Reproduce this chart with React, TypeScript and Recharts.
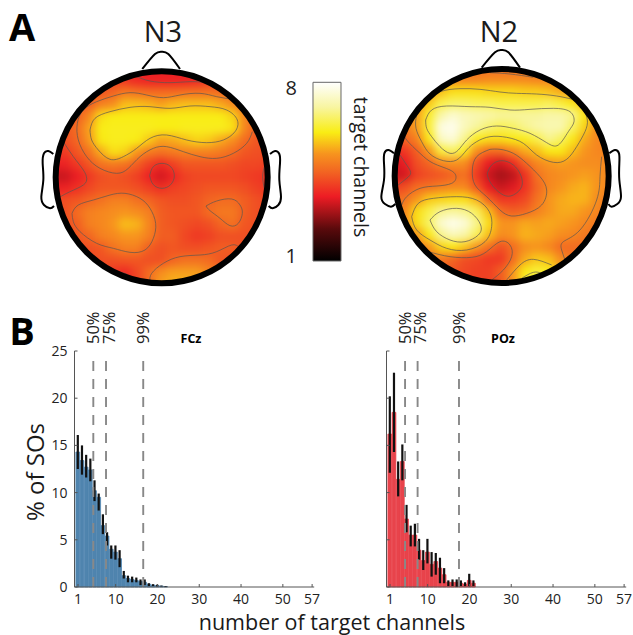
import React from "react";
import {
  Bar,
  ComposedChart,
  Curve,
  ErrorBar,
  ReferenceDot,
  ReferenceLine,
  Scatter,
  XAxis,
  YAxis,
} from "recharts";

// scalp maps: level on a 19x19 grid, one row per line, top of the head first
const n3Grid = [
  [3.6,3.6,3.6,3.6,3.6,3.6,3.6,3.6,3.6,3.6,3.6,3.6,3.6,3.6,3.6,3.6,3.6,3.6,3.6],
  [4,4,4,4,4,4,3.9,3.7,3.6,3.6,3.6,3.6,3.7,3.9,4,4,4,4,4],
  [4.2,4.2,4.2,4.2,4.3,4.5,4.8,4.7,4.6,4.6,4.6,4.7,4.7,4.7,4.6,4.4,4.3,4.2,4.2],
  [4.3,4.3,4.3,4.4,4.9,5.1,5.6,5.6,5.5,5.3,5.5,5.6,5.6,5.6,5.4,5.1,4.5,4.3,4.3],
  [4.3,4.3,4.4,5,5.9,6.05,6.05,6.05,6.05,6.05,6.05,6.05,6.05,6.05,6.05,5.8,5,4.4,4.3],
  [4.3,4.3,4.6,5.3,6.05,6.1,6.1,6.1,6.1,6.05,6.05,6.1,6.1,6.1,6.1,5.95,5,4.4,4.3],
  [4.2,4.2,4.5,5.2,6,6.1,6.1,6.05,5.7,5.3,5.4,5.6,5.8,5.7,5.4,5.1,4.6,4.3,4.2],
  [4,3.9,4.3,4.7,5.4,5.9,5.8,5.2,4.8,4.7,4.8,4.9,4.9,4.9,4.8,4.6,4.3,4.2,4.2],
  [3.6,3.6,3.9,4.3,4.7,4.8,4.7,4.4,4,3.7,4,4.3,4.3,4.3,4.3,4.2,4.1,4.1,4],
  [3.2,3.2,3.5,3.9,4.2,4.3,4.2,4,3.6,3.3,3.6,4,4.1,4.1,4.1,4.1,4,3.9,3.8],
  [3.6,3.6,3.8,4.1,4.3,4.3,4.3,4.2,4,3.8,4,4.1,4.2,4.3,4.3,4.3,4.2,4,3.9],
  [4.2,4.2,4.3,4.5,4.7,4.9,4.9,4.7,4.5,4.3,4.2,4.2,4.3,4.5,4.6,4.6,4.4,4.2,4.1],
  [4.2,4.2,4.6,4.9,5,5.1,5.2,5.1,4.9,4.4,4.3,4.3,4.3,4.6,4.8,4.8,4.4,4.2,4.1],
  [4.2,4.2,4.4,4.9,5,5.2,5.6,5.5,5,4.4,4.3,4.2,4.1,4.2,4.5,4.7,4.3,4.2,4.1],
  [4.2,4.2,4.3,4.5,4.9,5,5.2,5.2,4.9,4.4,4.4,4.1,3.9,4,4.2,4.2,4.2,4.2,4.2],
  [4.1,4.1,4.1,4.2,4.3,4.7,4.9,4.9,4.4,4.2,4.3,4.2,4.2,4.3,4.4,4.4,4.2,4.1,4.1],
  [4.1,4.1,4.1,4.1,4.2,4.2,4.3,4.3,4.2,4.2,4.5,4.7,4.7,4.6,4.3,4.2,4.1,4.1,4.1],
  [4,4,4,4,4,3.9,3.7,4.1,4.6,5.1,5.3,5.3,5.3,5,4.6,4.2,4.1,4,4],
  [3.8,3.8,3.8,3.8,3.8,3.8,3.7,4,4.6,5.3,5.5,5.5,5.4,4.9,4.4,4,3.9,3.8,3.8],
];

const n2Grid = [
  [4.6,4.6,4.6,4.6,4.6,4.6,4.6,4.6,4.6,4.6,4.6,4.6,4.6,4.6,4.6,4.6,4.6,4.6,4.6],
  [4.8,4.8,4.8,4.8,4.9,4.9,4.9,4.9,5,5,5,5,4.9,4.9,4.8,4.8,4.8,4.8,4.8],
  [5,5,5,5,5.6,5.9,5.9,5.9,5.8,5.8,5.8,5.7,5.7,5.6,5.4,5.1,5,4.9,4.9],
  [5,5,5,5.7,6.4,6.6,6.6,6.5,6.5,6.4,6.4,6.4,6.4,6.5,6.3,6,5.5,5,5],
  [5,5,5.3,6.2,7.1,7.5,7.3,7.2,7.1,7,7,7,7,7.1,7.1,6.9,6,5.1,5],
  [4.6,4.8,5.3,6.3,7.7,7.8,7.3,7,6.7,6.5,6.6,6.9,7.1,7.2,7.2,6.6,5.8,5,4.9],
  [4.3,4.5,4.9,6,7.4,7.6,6.9,6.1,5.9,5.9,6,6.1,6.4,6.9,6.6,6,5.4,5,4.9],
  [3.6,3.9,4.4,5.2,6.3,6.6,6.1,5.1,4.6,4.6,5,5.4,5.6,6,6,5.6,5.2,5,4.9],
  [3.3,3.5,4.2,4.5,5,5.2,5.1,4.2,3.5,3.3,3.7,4.5,5,5.2,5.3,5.2,5.1,5.1,5],
  [3.2,3.3,4,4.2,4.3,4.5,4.7,3.9,3.2,2.9,3.1,3.8,4.7,5,5.1,5.2,5.3,5.2,5],
  [3.9,4.2,4.6,4.7,4.9,5,5,4.3,3.5,3.2,3.4,3.8,4.5,5,5.2,5.4,5.5,5.2,5],
  [4.6,4.7,5.2,5.7,5.8,5.9,5.9,5.5,4.4,3.9,3.9,4.1,4.7,5.2,5.4,5.5,5.5,5.1,4.8],
  [4.8,5,5.9,6.4,6.9,7,6.9,6.5,5.6,4.6,4.4,4.5,4.9,5.2,5.4,5.4,5.2,5,4.7],
  [4.8,5,5.9,6.6,7.5,7.8,7.6,6.9,5.9,5.2,5.2,5.4,5.3,5.4,5.3,5.2,5,4.8,4.6],
  [4.8,4.8,5.2,6,6.9,7.3,7.1,6.5,5.6,5.1,5.2,5.5,5.4,5.3,5.1,5,4.8,4.6,4.5],
  [4.5,4.5,4.7,5.2,5.8,6,5.7,5.2,4.7,4.2,4.6,5.1,5.2,5,4.6,4.6,4.6,4.5,4.4],
  [4.3,4.3,4.4,4.6,4.8,4.5,4.2,4.1,3.9,3.9,4.6,5.4,5.7,5.6,5.1,4.7,4.5,4.4,4.3],
  [4,4,4,4.2,4.4,4.3,4.1,4,4,4.4,5.2,6,6.3,6.1,5.5,4.8,4.3,4.2,4.2],
  [3.8,3.8,3.8,4,4.2,4.1,4,4,4,4.3,5.2,6.2,6.6,6.3,5.5,4.6,4.1,4,4],
];

type P = [number, number];

// contour lines, in 1/3 px of the map box
const n3Contours: P[][] = [
  [[700,298],[650,290],[600,280],[540,285],[490,293],[440,285],[390,278],[340,288],[290,305],[250,330],[232,370],[235,420],[260,470],[300,505],[350,520],[385,505],[420,470],[460,445],[500,440],[550,455],[600,470],[650,475],[700,460],[740,430],[757,395]],
  [[270,390],[285,355],[330,335],[390,322],[450,320],[510,325],[570,318],[630,320],[680,330],[712,360],[705,395],[670,420],[620,428],[560,420],[500,405],[450,415],[410,445],[370,470],[330,478],[295,450],[275,420],[270,390]],
  [[405,228],[450,243],[510,248],[570,245],[610,247]],
  [[449,527],[460,500],[486,490],[512,500],[523,527],[512,554],[486,565],[460,554],[449,527]],
  [[190,425],[220,470],[250,510],[260,535],[250,555],[210,575],[178,592]],
  [[216,640],[235,615],[280,600],[330,585],[375,580],[420,595],[450,625],[467,670],[460,715],[435,750],[390,757],[340,745],[290,730],[240,695],[220,665],[216,640]],
  [[618,618],[650,603],[695,597],[720,615],[727,640],[715,670],[690,677],[660,655],[630,632],[618,618]],
  [[450,845],[455,820],[490,790],[540,770],[600,765],[650,755],[695,735],[718,742]],
  [[795,495],[788,530],[795,575]],
  [[350,820],[375,820],[390,835]],
];

const n2Contours: P[][] = [
  [[600,218],[660,222],[730,232]],
  [[848,298],[800,288],[740,282],[680,280],[630,276],[570,268],[510,266],[450,275],[400,305],[380,345],[378,385],[395,425],[420,462],[460,482],[500,480],[530,450],[560,425],[600,410],[650,412],[700,430],[740,465],[790,487],[830,478],[860,440],[885,395],[892,360],[880,325]],
  [[407,360],[425,330],[470,318],[540,320],[600,322],[660,330],[720,328],[790,325],[840,335],[852,365],[835,395],[805,435],[770,428],[720,400],[670,385],[620,378],[570,390],[530,420],[505,450],[480,460],[450,440],[425,410],[410,385],[407,360]],
  [[345,400],[350,420],[390,460],[430,490],[480,510],[498,530],[485,550],[440,558],[390,565],[350,590],[335,615]],
  [[330,465],[350,495],[362,518],[350,535],[322,557]],
  [[600,448],[560,470],[547,510],[555,555],[590,590],[630,630],[665,648],[710,640],[755,615],[770,570],[750,530],[710,490],[670,460],[630,448],[600,448]],
  [[592,520],[605,495],[635,482],[670,495],[692,525],[695,560],[670,585],[640,585],[610,560],[595,535],[592,520]],
  [[365,650],[385,610],[430,595],[500,590],[560,600],[598,635],[605,680],[585,725],[530,750],[470,745],[420,720],[380,690],[365,650]],
  [[420,660],[450,635],[500,625],[545,640],[572,675],[565,705],[525,725],[480,720],[440,695],[420,660]],
  [[415,755],[480,770],[545,772],[590,755],[630,725],[660,735],[665,770],[640,810],[605,840]],
  [[650,840],[690,795],[730,778],[785,795]],
  [[695,835],[730,817],[755,820]],
  [[935,470],[930,530],[920,600],[870,690],[820,725],[815,750],[825,780]],
];

const n3Outline: P[][] = [
  [[427,207],[465,162],[485,155],[505,162],[540,207]],
  [[160,462],[145,453],[132,460],[128,490],[130,540],[124,590],[132,615],[150,625],[162,618]],
  [[810,462],[825,453],[838,462],[840,490],[838,540],[843,590],[835,615],[818,625],[806,618]],
];

const n2Outline: P[][] = [
  [[575,203],[615,157],[635,150],[655,157],[690,203]],
  [[312,460],[295,450],[283,460],[282,490],[282,540],[274,590],[285,612],[303,620],[316,612]],
  [[958,460],[975,450],[987,460],[988,490],[988,540],[993,590],[982,612],[965,620],[955,612]],
];

// colour bar stops: share of the 1..8 range, colour
const colorStops: [number, string][] = [
  [0, "#000000"],
  [0.18, "#5a0a0c"],
  [0.36, "#ed1c24"],
  [0.5, "#f26522"],
  [0.6, "#f7941e"],
  [0.72, "#f9ed14"],
  [0.86, "#f8f5a0"],
  [1, "#ffffff"],
];

// histograms
const channels = [1,2,3,4,5,6,7,8,9,10,11,12,13,14,15,16,17,18,19,20,21,22];
const xTicks = [1, 10, 20, 30, 40, 50, 57];
const yTicks = [0, 5, 10, 15, 20, 25];
const pctNames = ["50%", "75%", "99%"];
const fczPct = [4.66, 7.7, 16.6];
const pozPct = [4.6, 7.6, 17.5];

const fczVals = [14.3,13.4,12.7,12.4,10.2,9.5,6.5,5.4,4,3.7,3,1.2,0.9,0.8,0.7,0.6,0.5,0.3,0.2,0.15,0.1,0.05];
const fczLow = [12.5,11.9,11.6,11.2,9.1,8.1,5.6,4.4,3,2.9,2.1,0.9,0.5,0.5,0.5,0.2,0.2,0.1,0.1,0.05,0.05,0];
const fczHigh = [16.1,15,14,13.6,11.3,9.9,7.7,5.8,4.4,4.4,3.9,1.7,1.2,1.1,1,0.8,0.8,0.4,0.3,0.25,0.15,0.1];

const pozVals = [16.2,18.5,11.4,13.3,7.2,5.5,5.5,3.9,2.8,3.7,2.4,2.7,2,1.3,0.5,0.5,0.5,0.4,0.3,0.7,0.4];
const pozLow = [12.1,14.3,9.6,11.3,5.8,4.3,4.3,2.9,1.8,2.5,1.1,1.3,0.4,0.4,0.1,0.1,0,0.1,0.1,0.1,0.1];
const pozHigh = [20.2,22.7,13.3,15.1,8.7,6.5,6.7,5.1,3.9,5.1,3.7,3.6,3.1,2,0.7,0.8,0.8,0.7,0.5,1.4,0.7];

const FONT = '"Open Sans", sans-serif';
const INK = "#222";
const AXIS = "#555";

function hex(c: string) {
  return [1, 3, 5].map((i) => parseInt(c.slice(i, i + 2), 16));
}

function levelColor(level: number) {
  const t = (level - 1) / 7;
  for (let i = 1; i < colorStops.length; i++) {
    if (t <= colorStops[i][0]) {
      const [t0, c0] = colorStops[i - 1];
      const [t1, c1] = colorStops[i];
      const k = (t - t0) / (t1 - t0);
      const a = hex(c0);
      const b = hex(c1);
      return `rgb(${a.map((v, j) => Math.round(v + (b[j] - v) * k)).join(",")})`;
    }
  }
  return "#fff";
}

function Label({ x, y, size, rotate = 0, bold = false, children }: any) {
  return (
    <div
      style={{
        position: "absolute",
        left: x,
        top: y,
        transform: `translate(-50%, -50%) rotate(${rotate}deg)`,
        fontFamily: FONT,
        fontSize: size,
        fontWeight: bold ? 700 : 400,
        color: bold ? "#000" : "#1a1a1a",
        whiteSpace: "nowrap",
        lineHeight: 1,
      }}
    >
      {children}
    </div>
  );
}

function HeatCell(props: any) {
  return (
    <rect
      x={props.cx - 7}
      y={props.cy - 7}
      width={14}
      height={14}
      fill={levelColor(props.level)}
    />
  );
}

function toPoints(line: P[]) {
  return line.map(([x, y]) => ({ x, y }));
}

// smooth line through the scatter's own scaled points
const smoothLine = (stroke: string, strokeWidth: number) => (props: any) => (
  <Curve points={props.points} type="natural" fill="none" stroke={stroke} strokeWidth={strokeWidth} />
);

function HeadMap({ grid, contours, outline, left, width, cx, cy, r }: any) {
  const cells = grid.flatMap((row: number[], i: number) =>
    row.map((level, j) => ({ x: cx + (j - 9) * 36, y: cy + (i - 9) * 36, level }))
  );
  const box = { position: "absolute", left, top: 0 } as const;
  const domainX = [0, width * 3];
  const axes = (
    <>
      <XAxis type="number" dataKey="x" domain={domainX} hide />
      <YAxis type="number" dataKey="y" domain={[0, 900]} reversed hide />
    </>
  );
  return (
    <>
      <div style={{ ...box, width, height: 300, clipPath: `circle(${r / 3}px at ${cx / 3}px ${cy / 3}px)` }}>
        <div style={{ filter: "blur(4.5px)" }}>
          <ComposedChart width={width} height={300} margin={{ top: 0, right: 0, bottom: 0, left: 0 }}>
            {axes}
            <Scatter data={cells} shape={HeatCell} isAnimationActive={false} />
          </ComposedChart>
        </div>
      </div>
      <div style={box}>
        <ComposedChart width={width} height={300} margin={{ top: 0, right: 0, bottom: 0, left: 0 }}>
          {axes}
          {contours.map((line: P[], i: number) => (
            <Scatter
              key={i}
              data={toPoints(line)}
              line={smoothLine("#5c5650", 0.7)}
              shape={() => <g />}
              isAnimationActive={false}
            />
          ))}
          {outline.map((line: P[], i: number) => (
            <Scatter
              key={`o${i}`}
              data={toPoints(line)}
              line={smoothLine("#000", 2)}
              shape={() => <g />}
              isAnimationActive={false}
            />
          ))}
          <ReferenceDot x={cx} y={cy} r={r / 3} fill="none" stroke="#000" strokeWidth={6} />
        </ComposedChart>
      </div>
    </>
  );
}

function PctLabel({ viewBox, value, dx }: any) {
  const x = (viewBox?.x ?? 0) + dx;
  return (
    <text
      transform={`translate(${x + 5.5}, 34) rotate(-90)`}
      fontFamily={FONT}
      fontSize={16.5}
      fill={INK}
    >
      {value}
    </text>
  );
}

const pctShift = [0.5, 3, 0.5];

function Histogram({ left, vals, low, high, color, pct, showY }: any) {
  const data = vals.map((v: number, i: number) => ({
    n: channels[i],
    v,
    err: [v - low[i], high[i] - v],
  }));
  return (
    <div style={{ position: "absolute", left, top: 310 }}>
      <ComposedChart
        width={330}
        height={325}
        data={data}
        margin={{ top: 41, right: 15.8, bottom: 18, left: 34.5 }}
      >
        <XAxis
          dataKey="n"
          type="number"
          domain={[0.16, 57.5]}
          ticks={xTicks}
          interval={0}
          height={30}
          stroke={AXIS}
          tickSize={-3}
          tickMargin={10}
          tick={{ fontSize: 14, fill: INK, fontFamily: FONT }}
        />
        <YAxis
          type="number"
          domain={[0, 25]}
          ticks={yTicks}
          width={40}
          stroke={AXIS}
          tickSize={-3}
          tickMargin={10}
          tickFormatter={(v: number) => (showY ? `${v}` : "")}
          tick={{ fontSize: 14, fill: INK, fontFamily: FONT }}
        />
        {/* the band is just over 4px, a thin stroke closes the gaps between bars */}
        <Bar dataKey="v" fill={color} stroke={color} strokeWidth={0.8} barSize={5} isAnimationActive={false}>
          <ErrorBar dataKey="err" direction="y" width={0} stroke="#111" strokeWidth={2.2} isAnimationActive={false} />
        </Bar>
        {pct.map((p: number, i: number) => (
          <ReferenceLine
            key={p}
            segment={[{ x: p, y: 0 }, { x: p, y: 24 }]}
            stroke="#888"
            strokeWidth={1.9}
            strokeDasharray="10 8"
            label={<PctLabel value={pctNames[i]} dx={pctShift[i]} />}
          />
        ))}
      </ComposedChart>
    </div>
  );
}

function ColorBar() {
  return (
    <div style={{ position: "absolute", left: 280, top: 0 }}>
      <ComposedChart
        width={70.6}
        height={300}
        data={[{ name: "level", top: 8 }]}
        margin={{ top: 82.3, right: 0, bottom: 39, left: 0 }}
      >
        <defs>
          <linearGradient id="levels" x1="0" y1="1" x2="0" y2="0">
            {colorStops.map(([o, c]) => (
              <stop key={o} offset={`${o * 100}%`} stopColor={c} />
            ))}
          </linearGradient>
        </defs>
        <XAxis dataKey="name" hide />
        <YAxis
          type="number"
          domain={[1, 8]}
          ticks={[1, 8]}
          width={24}
          axisLine={false}
          tickLine={false}
          tick={({ x, y, payload }: any) => (
            <text
              x={x + 1}
              y={y + (payload.value === 8 ? 13 : 2)}
              textAnchor="end"
              fontFamily={FONT}
              fontSize={20}
              fill={INK}
            >
              {payload.value}
            </text>
          )}
        />
        <Bar dataKey="top" barSize={28} fill="url(#levels)" stroke="#666" isAnimationActive={false} />
      </ComposedChart>
    </div>
  );
}

export default function App() {
  return (
    <div style={{ position: "absolute", left: 0, top: 0, width: 633, height: 635, overflow: "hidden", background: "#fff" }}>
      <HeadMap grid={n3Grid} contours={n3Contours} outline={n3Outline} left={0} width={300} cx={485} cy={532} r={318} />
      <HeadMap grid={n2Grid} contours={n2Contours} outline={n2Outline} left={290} width={343} cx={635} cy={528} r={321} />
      <ColorBar />
      <Histogram left={0} vals={fczVals} low={fczLow} high={fczHigh} color="#4f84ae" pct={fczPct} showY />
      <Histogram left={312} vals={pozVals} low={pozLow} high={pozHigh} color="#e8434b" pct={pozPct} showY={false} />

      <Label x={22} y={26} size={38} bold>A</Label>
      <Label x={22} y={330} size={38} bold>B</Label>
      <Label x={163} y={30} size={29}>N3</Label>
      <Label x={499} y={30} size={29}>N2</Label>
      <Label x={361} y={167} size={19.5} rotate={90}>target channels</Label>
      <Label x={35} y={472} size={24} rotate={-90}>% of SOs</Label>
      <Label x={332} y={622} size={21.5}>number of target channels</Label>
      <Label x={191} y={339} size={12.5} bold>FCz</Label>
      <Label x={503} y={339} size={12.5} bold>POz</Label>
    </div>
  );
}
